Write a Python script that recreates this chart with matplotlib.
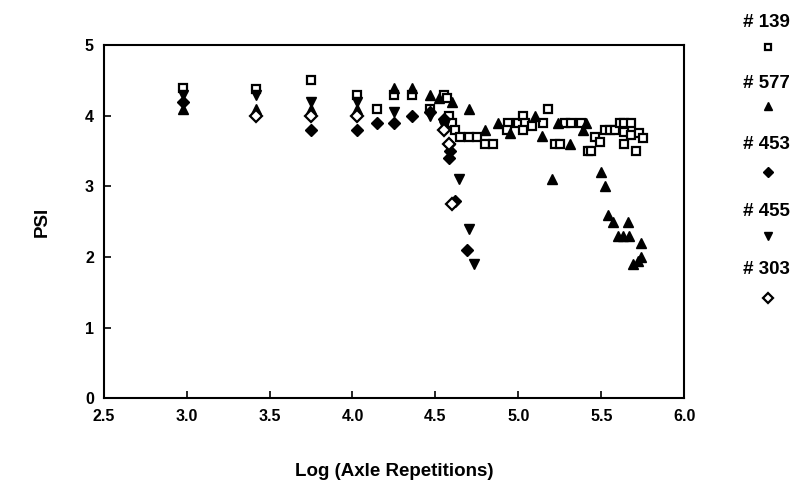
import numpy as np
import matplotlib
matplotlib.use("Agg")
import matplotlib.pyplot as plt
from matplotlib.lines import Line2D

plt.rcParams['font.family'] = ['Liberation Sans', 'DejaVu Sans']

# section data: (log reps, PSI)
s139_x = [2.98, 3.42, 3.75, 4.03, 4.15, 4.25, 4.36, 4.47, 4.55, 4.57, 4.58, 4.60, 4.62,
          4.65, 4.70, 4.75, 4.80, 4.85, 4.94, 4.93, 5.00, 5.03, 5.04, 5.03, 5.08, 5.18,
          5.15, 5.22, 5.25, 5.28, 5.32, 5.38, 5.42, 5.46, 5.49, 5.44, 5.52, 5.55, 5.58,
          5.61, 5.64, 5.68, 5.64, 5.68, 5.73, 5.64, 5.71, 5.75]
s139_y = [4.4, 4.38, 4.5, 4.3, 4.1, 4.3, 4.3, 4.1, 4.3, 4.25, 4.0, 3.9, 3.8,
          3.7, 3.7, 3.7, 3.6, 3.6, 3.9, 3.8, 3.9, 4.0, 3.9, 3.8, 3.85, 4.1,
          3.9, 3.6, 3.6, 3.9, 3.9, 3.9, 3.5, 3.7, 3.63, 3.5, 3.8, 3.8, 3.8,
          3.9, 3.9, 3.9, 3.77, 3.73, 3.75, 3.6, 3.5, 3.68]

s577_x = [2.98, 3.42, 3.75, 4.03, 4.25, 4.36, 4.47, 4.52, 4.60, 4.70, 4.80, 4.88, 4.95,
          5.10, 5.14, 5.20, 5.24, 5.31, 5.39, 5.41, 5.50, 5.52, 5.54, 5.57, 5.60, 5.63,
          5.67, 5.66, 5.74, 5.69, 5.72, 5.74]
s577_y = [4.1, 4.1, 4.1, 4.1, 4.4, 4.4, 4.3, 4.25, 4.2, 4.1, 3.8, 3.9, 3.75,
          4.0, 3.72, 3.1, 3.9, 3.6, 3.8, 3.9, 3.2, 3.0, 2.6, 2.5, 2.3, 2.3,
          2.3, 2.5, 2.2, 1.9, 1.95, 2.0]

s453_x = [2.98, 3.75, 4.03, 4.15, 4.25, 4.36, 4.47, 4.55, 4.58, 4.59, 4.58, 4.62, 4.69]
s453_y = [4.2, 3.8, 3.8, 3.9, 3.9, 4.0, 4.05, 3.95, 3.6, 3.5, 3.4, 2.8, 2.1]

s455_x = [2.98, 3.42, 3.75, 4.03, 4.25, 4.47, 4.55, 4.64, 4.70, 4.73]
s455_y = [4.3, 4.3, 4.2, 4.2, 4.05, 4.0, 3.85, 3.1, 2.4, 1.9]

s303_x = [3.42, 3.75, 4.03, 4.55, 4.58, 4.60]
s303_y = [4.0, 4.0, 4.0, 3.8, 3.6, 2.75]

labels = ['# 139', '# 577', '# 453', '# 455', '# 303']
xticks = [2.5, 3.0, 3.5, 4.0, 4.5, 5.0, 5.5, 6.0]
yticks = [0, 1, 2, 3, 4, 5]

series = [
    (s139_x, s139_y, dict(marker='s', mfc='white', mec='black', mew=1.6, ms=6.3)),
    (s577_x, s577_y, dict(marker='^', mfc='black', mec='black', ms=7.5)),
    (s453_x, s453_y, dict(marker='D', mfc='black', mec='black', ms=6.5)),
    (s455_x, s455_y, dict(marker='v', mfc='black', mec='black', ms=7.5)),
    (s303_x, s303_y, dict(marker='D', mfc='white', mec='black', mew=1.6, ms=6.3)),
]

fig = plt.figure(figsize=(8.04, 4.91), dpi=100)
ax = fig.add_axes([0.129, 0.189, 0.722, 0.719])

for xs, ys, st in series:
    ax.plot(xs, ys, ls='none', **st)

ax.set_xlim(2.5, 6.0)
ax.set_ylim(0, 5)
ax.set_xticks(xticks)
ax.set_xticklabels([f'{t:.1f}' for t in xticks])
ax.set_yticks(yticks)
ax.tick_params(direction='in', length=5, width=1.2, labelsize=11.5)
ax.tick_params(axis='x', pad=8)
ax.tick_params(axis='y', pad=7)
for lbl in ax.get_xticklabels() + ax.get_yticklabels():
    lbl.set_fontweight('semibold')
for sp in ax.spines.values():
    sp.set_linewidth(1.5)

ax.set_xlabel('Log (Axle Repetitions)', fontsize=13.5, labelpad=28, fontweight='semibold')
ax.set_ylabel('PSI', fontsize=13.5, labelpad=25, fontweight='semibold')

# legend column at the right edge
text_y = [0.955, 0.83, 0.705, 0.57, 0.452]
mark_y = [0.905, 0.785, 0.65, 0.52, 0.393]
for lab, ty, my, (_, _, st) in zip(labels, text_y, mark_y, series):
    fig.text(0.953, ty, lab, ha='center', va='center', fontsize=13.5, fontweight='bold')
    fig.add_artist(Line2D([0.955], [my], transform=fig.transFigure, ls='none',
                          **dict(st, ms=st['ms'] * 0.75)))

fig.savefig('out.png', dpi=100)
